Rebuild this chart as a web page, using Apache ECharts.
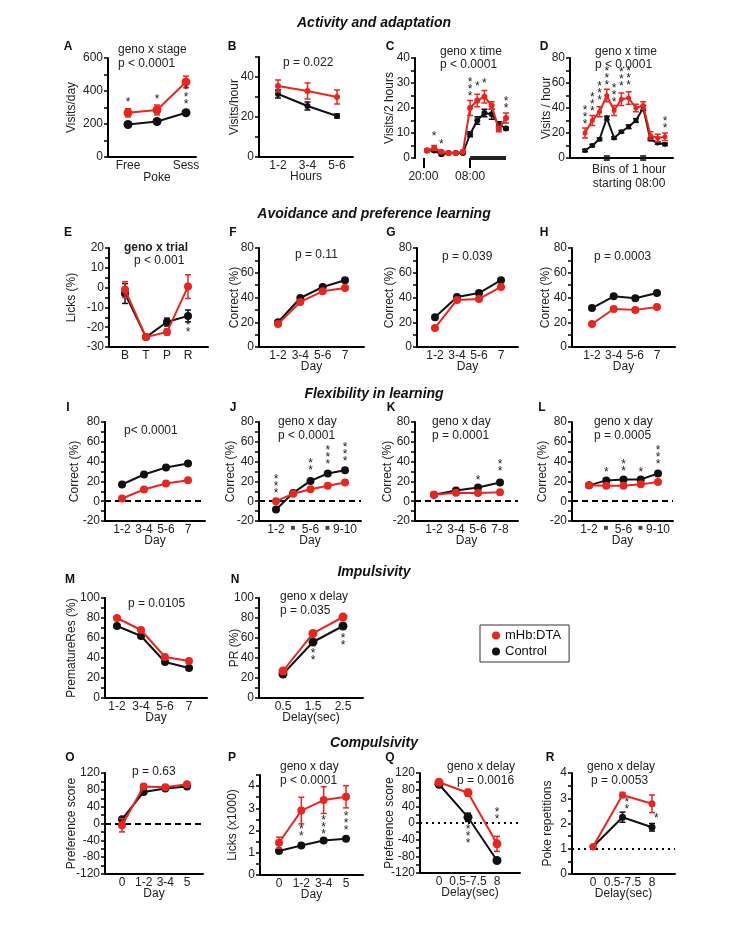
<!DOCTYPE html>
<html>
<head>
<meta charset="UTF-8">
<title></title>
<style>
	* { margin: 0; padding: 0; }
	html, body { width: 100%; height: 100%; background: #fff; overflow: hidden; }
	#main { width: 752px; height: 929px; }
</style>
</head>
<body>
<div id="main"></div>
<script src="https://cdn.jsdelivr.net/npm/echarts@6/dist/echarts.min.js"></script>
<script>
// ---------- data ----------
// A  visits/day by stage
var aCats = ['Free', 'Poke', 'Sess'];
var aRed = [268, 285, 455], aRedErr = [25, 30, 35];
var aBlack = [197, 215, 268], aBlackErr = [12, 10, 14];
var aStars = [[0, 330, '*'], [1, 345, '*'], [2, 362, '*\n*\n*']];
var aTicks = [0, 100, 200, 300, 400, 500, 600], aLabels = [0, 200, 400, 600];
// B  visits/hour
var bCats = ['1-2', '3-4', '5-6'];
var bRed = [35.5, 33, 30], bRedErr = [3, 4, 3.5];
var bBlack = [31.5, 25.5, 20.5], bBlackErr = [2, 2, 1];
var bTicks = [0, 10, 20, 30, 40, 50], bLabels = [0, 20, 40];
// C  visits / 2 hours
var cCats = ['', '', '', '', '', '', '', '', '', '', '', ''];
var cRed = [3, 4, 2.5, 2, 2, 2.5, 20, 23, 24.5, 21, 11.5, 16];
var cRedErr = [0.5, 1, 0.5, 0.3, 0.3, 0.5, 3, 2.5, 2.5, 1.5, 1, 2];
var cBlack = [3, 3, 1.5, 2, 2, 2, 9.5, 15, 18, 17.5, 13.5, 11.8];
var cBlackErr = [0.3, 0.5, 0.5, 0.3, 0.3, 0.3, 1, 1.5, 1.5, 2, 1, 0.5];
var cStars = [[1, 8.4, '*'], [2, 5.2, '*'], [6, 27.2, '*\n*\n*'], [7, 28.4, '*'], [8, 29.6, '*'], [11, 21.2, '*\n*']];
var cTimeAt = [-0.5, 6], cTimeText = ['20:00', '08:00'];
var cDark = [6, 11];
var cTicks = [0, 5, 10, 15, 20, 25, 30, 35, 40], cLabels = [0, 10, 20, 30, 40];
// D  visits / hour, bins of 1 hour
var dCats = ['', '', '', '', '', '', '', '', '', '', '', ''];
var dRed = [20, 30, 37, 50, 38, 47, 48, 40, 42, 18, 16, 17];
var dRedErr = [4, 4, 4, 5, 4, 5, 5, 3, 3, 3, 3, 3];
var dBlack = [6, 10, 15, 32, 16, 21, 25, 30, 40, 15, 12, 11];
var dBlackErr = [1, 1, 1, 1.5, 1, 1, 1.5, 1.5, 2, 1, 1, 1];
var dStars = [[0, 32.5, '*\n*\n*'], [1, 42.4, '*\n*\n*'], [2, 51.7, '*\n*\n*'], [3, 63.7, '*\n*\n*'],
	[4, 49.6, '*\n*\n*'], [5, 62.4, '*\n*\n*'], [6, 63.7, '*\n*\n*'], [11, 26.4, '*\n*']];
var dMarks = [3, 8];
var dTicks = [0, 10, 20, 30, 40, 50, 60, 70, 80], dLabels = [0, 20, 40, 60, 80];
// E  licks (%)
var eCats = ['B', 'T', 'P', 'R'];
var eRed = [-1, -25, -22.4, 0.5], eRedErr = [4, 1, 1.5, 6];
var eBlack = [-3, -25, -17.4, -14.3], eBlackErr = [5, 1, 2, 3];
var eStars = [[3, -21, '*\n*']];
var eTicks = [-30, -25, -20, -15, -10, -5, 0, 5, 10, 15, 20], eLabels = [-30, -20, -10, 0, 10, 20];
// F G H  correct (%)
var dayCats = ['1-2', '3-4', '5-6', '7'];
var fRed = [18.6, 36.4, 45, 47.6], fBlack = [20, 39.6, 48.5, 54];
var gRed = [15.4, 38, 38.8, 48.5], gBlack = [24, 40.4, 43.6, 54];
var hRed = [18.6, 30.7, 30, 32.3], hBlack = [31.5, 41, 39.4, 43.6];
var corTicks = [0, 10, 20, 30, 40, 50, 60, 70, 80], corLabels = [0, 20, 40, 60, 80];
// I J K L  flexibility
var iRed = [2.7, 11.8, 17.9, 21.2], iBlack = [16.9, 27, 34, 38];
var jCats = ['1-2', '\u25A0', '5-6', '\u25A0', '9-10'];
var jRed = [0, 7.5, 12.1, 15.5, 18.9], jBlack = [-8.4, 8.4, 20.5, 28, 31.3];
var jStars = [[0, 14.4, '*\n*\n*'], [2, 34.6, '*\n*'], [3, 43.8, '*\n*\n*'], [4, 47, '*\n*\n*']];
var kCats = ['1-2', '3-4', '5-6', '7-8'];
var kRed = [6.5, 8.5, 8.4, 9], kBlack = [6.5, 10.8, 13.8, 18.9];
var kStars = [[2, 21.2, '*'], [3, 33, '*\n*']];
var lCats = ['1-2', '\u25A0', '5-6', '\u25A0', '9-10'];
var lRed = [16, 15.5, 15.5, 17, 19.5], lBlack = [16, 21, 22, 22, 28];
var lStars = [[1, 29, '*'], [2, 33.6, '*\n*'], [3, 29, '*'], [4, 43.7, '*\n*\n*']];
var flexTicks = [-20, -10, 0, 10, 20, 30, 40, 50, 60, 70, 80], flexLabels = [-20, 0, 20, 40, 60, 80];
// M N  impulsivity
var mRed = [80, 68, 41, 37], mBlack = [72, 62, 36, 30];
var nCats = ['0.5', '1.5', '2.5'];
var nRed = [27, 64.6, 81], nBlack = [24, 56, 72];
var nStars = [[1, 41, '*\n*'], [2, 55.7, '*\n*']];
var pctTicks = [0, 10, 20, 30, 40, 50, 60, 70, 80, 90, 100], pctLabels = [0, 20, 40, 60, 80, 100];
// O P Q R  compulsivity
var oCats = ['0', '1-2', '3-4', '5'];
var oRed = [-4, 88, 86, 93], oRedErr = [16, 5, 4, 4];
var oBlack = [10, 75, 83, 88], oBlackErr = [3, 4, 3, 3];
var prefTicks = [-120, -100, -80, -60, -40, -20, 0, 20, 40, 60, 80, 100, 120];
var prefLabels = [-120, -80, -40, 0, 40, 80, 120];
var pRed = [1.45, 2.9, 3.37, 3.52], pRedErr = [0.25, 0.6, 0.6, 0.5];
var pBlack = [1.08, 1.33, 1.55, 1.63], pBlackErr = [0.05, 0.06, 0.08, 0.08];
var pStars = [[1, 1.87, '*\n*'], [2, 2.14, '*\n*\n*'], [3, 2.29, '*\n*\n*']];
var pTicks = [0, 0.5, 1, 1.5, 2, 2.5, 3, 3.5, 4, 4.5], pLabels = [0, 1, 2, 3, 4];
var delayCats = ['0', '0.5-7.5', '8'];
var qRed = [97.7, 72.7, -50], qRedErr = [4, 8, 18];
var qBlack = [93, 13.7, -90], qBlackErr = [4, 10, 4];
var qStars = [[1, -34, '*\n*\n*'], [2, 16.8, '*\n*']];
var rRed = [1.08, 3.13, 2.78], rRedErr = [0.05, 0.1, 0.35];
var rBlack = [1.08, 2.25, 1.85], rBlackErr = [0.05, 0.2, 0.15];
var rStars = [[1.15, 2.7, '*\n*'], [2.15, 2.2, '*']];
var rTicks = [0, 0.5, 1, 1.5, 2, 2.5, 3, 3.5, 4], rLabels = [0, 1, 2, 3, 4];

// ---------- layout ----------
var FONT = '"Liberation Sans", Arial, sans-serif';
var RED = '#e8261f', BLK = '#111111';

var panels = [
	{cats: aCats, red: aRed, redErr: aRedErr, black: aBlack, blackErr: aBlackErr, stars: aStars,
		x0: 108, x1: 196, p0: 128, p1: 186, yTop: 58, yBot: 157, yMin: 0, yMax: 600, yTicks: aTicks, yLabels: aLabels,
		yName: 'Visits/day', yGap: 30, sym: 9, dropMiddle: true},
	{cats: bCats, red: bRed, redErr: bRedErr, black: bBlack, blackErr: bBlackErr,
		x0: 259, x1: 353, p0: 278, p1: 337, yTop: 57, yBot: 157, yMin: 0, yMax: 50, yTicks: bTicks, yLabels: bLabels,
		yName: 'Visits/hour', yGap: 18, xName: 'Hours', sym: 6},
	{cats: cCats, red: cRed, redErr: cRedErr, black: cBlack, blackErr: cBlackErr, stars: cStars,
		x0: 415, x1: 510, p0: 427, p1: 506, yTop: 58, yBot: 158, yMin: 0, yMax: 40, yTicks: cTicks, yLabels: cLabels,
		yName: 'Visits/2 hours', yGap: 19, sym: 6, noXLine: true, xLabVals: cTimeAt, xLabText: cTimeText, xTicks: true, xMargin: 13},
	{cats: dCats, red: dRed, redErr: dRedErr, black: dBlack, blackErr: dBlackErr, stars: dStars,
		x0: 570, x1: 673, p0: 585, p1: 665, yTop: 58, yBot: 158, yMin: 0, yMax: 80, yTicks: dTicks, yLabels: dLabels,
		yName: 'Visits / hour', yGap: 17, sym: 5, xLabVals: []},

	{cats: eCats, red: eRed, redErr: eRedErr, black: eBlack, blackErr: eBlackErr, stars: eStars,
		x0: 109, x1: 208, p0: 125, p1: 188, yTop: 248, yBot: 347, yMin: -30, yMax: 20, yTicks: eTicks, yLabels: eLabels,
		yName: 'Licks (%)', yGap: 31, sym: 8},
	{cats: dayCats, red: fRed, black: fBlack,
		x0: 259, x1: 364, p0: 278, p1: 345, yTop: 248, yBot: 347, yMin: 0, yMax: 80, yTicks: corTicks, yLabels: corLabels,
		yName: 'Correct (%)', yGap: 18, xName: 'Day', sym: 8},
	{cats: dayCats, red: gRed, black: gBlack,
		x0: 417, x1: 518, p0: 435, p1: 501, yTop: 248, yBot: 347, yMin: 0, yMax: 80, yTicks: corTicks, yLabels: corLabels,
		yName: 'Correct (%)', yGap: 21, xName: 'Day', sym: 8},
	{cats: dayCats, red: hRed, black: hBlack,
		x0: 572, x1: 675, p0: 592, p1: 657, yTop: 248, yBot: 347, yMin: 0, yMax: 80, yTicks: corTicks, yLabels: corLabels,
		yName: 'Correct (%)', yGap: 20, xName: 'Day', sym: 8},

	{cats: dayCats, red: iRed, black: iBlack, ref: 0, refType: 'dashed',
		x0: 105, x1: 205, p0: 122, p1: 188, yTop: 422, yBot: 521, yMin: -20, yMax: 80, yTicks: flexTicks, yLabels: flexLabels,
		yName: 'Correct (%)', yGap: 24, xName: 'Day', sym: 8},
	{cats: jCats, red: jRed, black: jBlack, stars: jStars, ref: 0, refType: 'dashed',
		x0: 259, x1: 361, p0: 276, p1: 345, yTop: 422, yBot: 521, yMin: -20, yMax: 80, yTicks: flexTicks, yLabels: flexLabels,
		yName: 'Correct (%)', yGap: 22, xName: 'Day', sym: 8},
	{cats: kCats, red: kRed, black: kBlack, stars: kStars, ref: 0, refType: 'dashed',
		x0: 415, x1: 518, p0: 434, p1: 500, yTop: 422, yBot: 521, yMin: -20, yMax: 80, yTicks: flexTicks, yLabels: flexLabels,
		yName: 'Correct (%)', yGap: 21, xName: 'Day', sym: 8},
	{cats: lCats, red: lRed, black: lBlack, stars: lStars, ref: 0, refType: 'dashed',
		x0: 572, x1: 673, p0: 589, p1: 658, yTop: 422, yBot: 521, yMin: -20, yMax: 80, yTicks: flexTicks, yLabels: flexLabels,
		yName: 'Correct (%)', yGap: 23, xName: 'Day', sym: 8},

	{cats: dayCats, red: mRed, black: mBlack,
		x0: 105, x1: 207, p0: 117, p1: 189, yTop: 598, yBot: 698, yMin: 0, yMax: 100, yTicks: pctTicks, yLabels: pctLabels,
		yName: 'PrematureRes (%)', yGap: 27, xName: 'Day', sym: 8},
	{cats: nCats, red: nRed, black: nBlack, stars: nStars,
		x0: 259, x1: 363, p0: 283, p1: 343, yTop: 598, yBot: 698, yMin: 0, yMax: 100, yTicks: pctTicks, yLabels: pctLabels,
		yName: 'PR (%)', yGap: 18, xName: 'Delay(sec)', sym: 9},

	{cats: oCats, red: oRed, redErr: oRedErr, black: oBlack, blackErr: oBlackErr, ref: 0, refType: 'dashed',
		x0: 105, x1: 203, p0: 122, p1: 187, yTop: 773, yBot: 874, yMin: -120, yMax: 120, yTicks: prefTicks, yLabels: prefLabels,
		yName: 'Preference score', yGap: 27, xName: 'Day', sym: 8},
	{cats: oCats, red: pRed, redErr: pRedErr, black: pBlack, blackErr: pBlackErr, stars: pStars,
		x0: 260, x1: 363, p0: 279, p1: 346, yTop: 775, yBot: 875, yMin: 0, yMax: 4.5, yTicks: pTicks, yLabels: pLabels,
		yName: 'Licks (x1000)', yGap: 21, xName: 'Day', sym: 8},
	{cats: delayCats, red: qRed, redErr: qRedErr, black: qBlack, blackErr: qBlackErr, stars: qStars, ref: 0, refType: 'dotted',
		x0: 420, x1: 520, p0: 439, p1: 497, yTop: 773, yBot: 873, yMin: -120, yMax: 120, yTicks: prefTicks, yLabels: prefLabels,
		yName: 'Preference score', yGap: 24, xName: 'Delay(sec)', sym: 9},
	{cats: delayCats, red: rRed, redErr: rRedErr, black: rBlack, blackErr: rBlackErr, stars: rStars, ref: 1, refType: 'dotted',
		x0: 572, x1: 675, p0: 593, p1: 652, yTop: 773, yBot: 874, yMin: 0, yMax: 4, yTicks: rTicks, yLabels: rLabels,
		yName: 'Poke repetitions', yGap: 18, xName: 'Delay(sec)', sym: 7}
];

// panel letters, annotations, section titles
var letters = [['A', 68, 47], ['B', 232, 47], ['C', 390, 47], ['D', 544, 47],
	['E', 68, 233], ['F', 233, 233], ['G', 391, 233], ['H', 544, 233],
	['I', 68, 408], ['J', 233, 408], ['K', 391, 408], ['L', 542, 408],
	['M', 70, 580], ['N', 235, 580], ['O', 70, 758], ['P', 232, 758], ['Q', 390, 758], ['R', 550, 758]];
var notes = [
	['geno x stage', 118, 50], ['p < 0.0001', 118, 64],
	['p = 0.022', 283, 63],
	['geno x time', 440, 52], ['p < 0.0001', 440, 65],
	['geno x time', 595, 52], ['p < 0.0001', 595, 65],
	['geno x trial', 124, 248, true], ['p < 0.001', 134, 261],
	['p = 0.11', 295, 255], ['p = 0.039', 442, 257], ['p = 0.0003', 594, 257],
	['p< 0.0001', 124, 431],
	['geno x day', 278, 422], ['p < 0.0001', 278, 436],
	['geno x day', 432, 422], ['p = 0.0001', 432, 436],
	['geno x day', 594, 422], ['p = 0.0005', 594, 436],
	['p = 0.0105', 128, 604],
	['geno x delay', 280, 597], ['p = 0.035', 280, 611],
	['p = 0.63', 132, 772],
	['geno x day', 280, 767], ['p < 0.0001', 280, 781],
	['geno x delay', 447, 767], ['p = 0.0016', 457, 781],
	['geno x delay', 587, 767], ['p = 0.0053', 591, 781]
];
var sections = [['Activity and adaptation', 23], ['Avoidance and preference learning', 214],
	['Flexibility in learning', 394], ['Impulsivity', 572], ['Compulsivity', 743]];

var option = {
	backgroundColor: '#fff',
	animation: false,
	grid: [], xAxis: [], yAxis: [], series: [], graphic: [],
	legend: {
		left: 480, top: 625, orient: 'vertical',
		data: ['mHb:DTA', 'Control'],
		icon: 'circle', itemWidth: 8, itemHeight: 8, itemGap: 3,
		borderColor: '#333', borderWidth: 1, padding: [4, 8, 4, 12],
		textStyle: {fontFamily: FONT, fontSize: 13, color: '#111'}
	}
};

function errSeries(gi, vals, errs, color) {
	return {
		type: 'custom', xAxisIndex: gi, yAxisIndex: gi, silent: true, z: 4,
		data: vals.map(function(v, i) { return [i, v - errs[i], v + errs[i]]; }),
		renderItem: function(params, api) {
			var lo = api.coord([api.value(0), api.value(1)]);
			var hi = api.coord([api.value(0), api.value(2)]);
			var w = 3, st = {stroke: color, lineWidth: 1.5};
			return {type: 'group', children: [
				{type: 'line', shape: {x1: lo[0], y1: lo[1], x2: hi[0], y2: hi[1]}, style: st},
				{type: 'line', shape: {x1: lo[0] - w, y1: lo[1], x2: lo[0] + w, y2: lo[1]}, style: st},
				{type: 'line', shape: {x1: hi[0] - w, y1: hi[1], x2: hi[0] + w, y2: hi[1]}, style: st}
			]};
		}
	};
}

function starSeries(gi, stars) {
	return {
		type: 'custom', xAxisIndex: gi, yAxisIndex: gi, silent: true, z: 6,
		data: stars.map(function(s) { return [s[0], s[1]]; }),
		renderItem: function(params, api) {
			var pt = api.coord([api.value(0), api.value(1)]);
			return {type: 'text', x: pt[0], y: pt[1], style: {
				text: stars[params.dataIndex][2], fill: '#222', font: '12px ' + FONT,
				align: 'center', verticalAlign: 'middle', textAlign: 'center', textVerticalAlign: 'middle', lineHeight: 7
			}};
		}
	};
}

function addPanel(p) {
	var gi = option.grid.length;
	var n = p.cats.length;
	var s = (p.p1 - p.p0) / (n - 1);
	var labVals = p.xLabVals || p.cats.map(function(c, i) { return i; });
	var labText = p.xLabText || p.cats;
	option.grid.push({left: p.x0, top: p.yTop, width: p.x1 - p.x0, height: p.yBot - p.yTop});
	option.xAxis.push({
		type: 'value', gridIndex: gi,
		min: -(p.p0 - p.x0) / s, max: (n - 1) + (p.x1 - p.p1) / s,
		splitLine: {show: false},
		axisLine: {show: !p.noXLine, onZero: false, lineStyle: {color: '#000', width: 2}},
		axisTick: p.xTicks ? {show: true, customValues: labVals, length: 10, lineStyle: {color: '#000', width: 2}} : {show: false},
		axisLabel: {
			customValues: labVals, margin: p.xMargin || 3, fontFamily: FONT, fontSize: 12, color: '#222',
			rich: {s: {fontSize: 8, color: '#444'}},
			formatter: function(v) {
				var k = 0;
				for (var j = 0; j < labVals.length; j++) if (Math.abs(labVals[j] - v) < 1e-6) k = j;
				var t = labText[k];
				if (t === '\u25A0') return '{s|\u25A0}';
				if (p.dropMiddle && k === 1) return '\n' + t;
				return t;
			}
		},
		name: p.xName || '', nameLocation: 'middle', nameGap: 14, nameMoveOverlap: false,
		nameTextStyle: {fontFamily: FONT, fontSize: 12, color: '#222', verticalAlign: 'top'}
	});
	option.yAxis.push({
		type: 'value', gridIndex: gi, min: p.yMin, max: p.yMax,
		splitLine: {show: false},
		axisLine: {show: true, onZero: false, lineStyle: {color: '#000', width: 2}},
		axisTick: {show: true, customValues: p.yTicks, length: 4, lineStyle: {color: '#000', width: 1.5}},
		axisLabel: {customValues: p.yLabels, margin: 5, fontFamily: FONT, fontSize: 12, color: '#222'},
		name: p.yName, nameLocation: 'middle', nameRotate: 90, nameGap: p.yGap, nameMoveOverlap: false,
		nameTextStyle: {fontFamily: FONT, fontSize: 12, color: '#222'}
	});

	var black = {
		type: 'line', name: 'Control', xAxisIndex: gi, yAxisIndex: gi,
		data: p.black.map(function(v, i) { return [i, v]; }),
		symbol: 'circle', symbolSize: p.sym, showSymbol: true,
		itemStyle: {color: BLK}, lineStyle: {color: BLK, width: 2}, z: 3
	};
	if (p.ref !== undefined) {
		black.markLine = {
			silent: true, symbol: 'none', label: {show: false},
			lineStyle: {color: '#000', width: 2, type: p.refType === 'dotted' ? [2, 4] : [6, 4]},
			data: [{yAxis: p.ref}]
		};
	}
	option.series.push(black);
	if (p.blackErr) option.series.push(errSeries(gi, p.black, p.blackErr, BLK));
	option.series.push({
		type: 'line', name: 'mHb:DTA', xAxisIndex: gi, yAxisIndex: gi,
		data: p.red.map(function(v, i) { return [i, v]; }),
		symbol: 'circle', symbolSize: p.sym, showSymbol: true,
		itemStyle: {color: RED}, lineStyle: {color: RED, width: 2}, z: 5
	});
	if (p.redErr) option.series.push(errSeries(gi, p.red, p.redErr, RED));
	if (p.stars) option.series.push(starSeries(gi, p.stars));
	return gi;
}

var idx = panels.map(addPanel);

// C: dark phase bar along zero
option.series.push({
	type: 'line', xAxisIndex: idx[2], yAxisIndex: idx[2], silent: true, symbol: 'none',
	data: cDark.map(function(x) { return [x, 0]; }),
	lineStyle: {color: '#222', width: 4}, z: 2
});
// D: small squares on the axis
option.series.push({
	type: 'scatter', xAxisIndex: idx[3], yAxisIndex: idx[3], silent: true,
	symbol: 'rect', symbolSize: 6, itemStyle: {color: '#111'},
	data: dMarks.map(function(x) { return [x, 0]; }), z: 6
});

letters.forEach(function(l) {
	option.graphic.push({type: 'text', style: {x: l[1], y: l[2], text: l[0], fill: '#111',
		font: 'bold 12px ' + FONT, align: 'center', verticalAlign: 'middle', textAlign: 'center', textVerticalAlign: 'middle'}});
});
notes.forEach(function(t) {
	option.graphic.push({type: 'text', style: {x: t[1], y: t[2], text: t[0], fill: '#222',
		font: (t[3] ? 'bold ' : '') + '12px ' + FONT, align: 'left', verticalAlign: 'middle', textAlign: 'left', textVerticalAlign: 'middle'}});
});
sections.forEach(function(t) {
	option.graphic.push({type: 'text', style: {x: 374, y: t[1], text: t[0], fill: '#111',
		font: 'italic bold 14px ' + FONT, align: 'center', verticalAlign: 'middle', textAlign: 'center', textVerticalAlign: 'middle'}});
});
['Bins of 1 hour', 'starting 08:00'].forEach(function(t, i) {
	option.graphic.push({type: 'text', style: {x: 629, y: 170 + i * 14, text: t, fill: '#222',
		font: '12px ' + FONT, align: 'center', verticalAlign: 'middle', textAlign: 'center', textVerticalAlign: 'middle'}});
});

var chart = echarts.init(document.getElementById('main'));
chart.setOption(option);
</script>
</body>
</html>
